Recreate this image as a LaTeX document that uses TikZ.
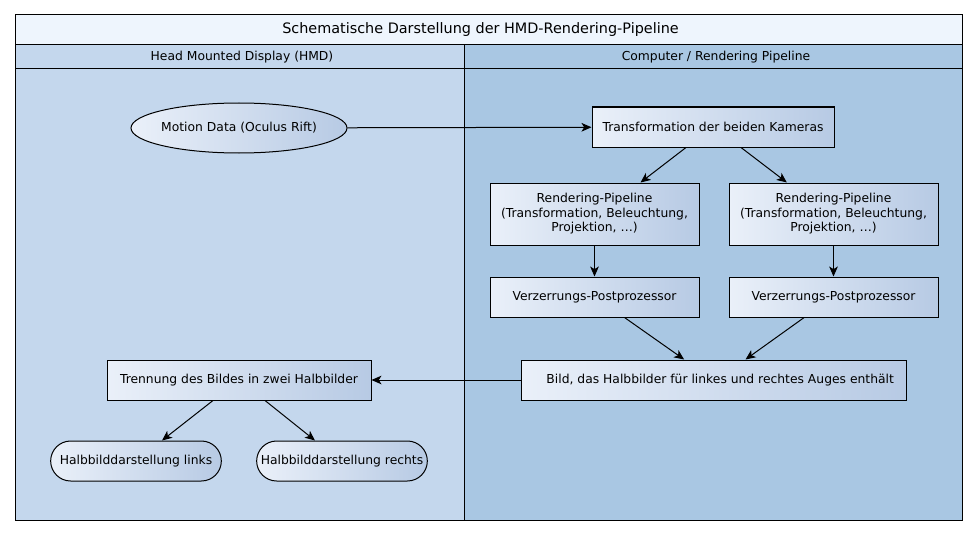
\documentclass[tikz,border=0pt]{standalone}
\usepackage{fontspec}
\setmainfont{DejaVu Sans}
\usepackage{xcolor}
\usetikzlibrary{
    arrows.meta,
    calc,
    positioning,
    shapes.geometric,
    shapes.misc
}
\definecolor{titlefill}{RGB}{238,245,253}
\definecolor{hmdfill}{RGB}{196,215,237}
\definecolor{pcfill}{RGB}{169,199,227}
\definecolor{boxlight}{RGB}{234,240,249}
\definecolor{boxdark}{RGB}{183,202,228}

\begin{document}
\begin{tikzpicture}[x=0.75pt,y=-0.75pt,
    font=\fontsize{9.25pt}{10.9pt}\selectfont,
    stage/.style={draw,line width=0.75pt,left color=boxlight,right color=boxdark,
        inner sep=2pt,align=center,minimum height=30pt},
    pipebox/.style={stage,rectangle,minimum width=156.75pt},
    halfbox/.style={stage,rounded rectangle,minimum width=132pt},
    flow/.style={line width=0.75pt,-{Stealth[length=7.5pt,width=6.5pt,inset=2pt]}}
]
\useasboundingbox (0,0) rectangle (978,535);

% Swimlanes
\fill[titlefill] (15,15) rectangle (962,45);
\fill[hmdfill] (15,45) rectangle (464,520);
\fill[pcfill] (464,45) rectangle (962,520);
\draw[line width=0.75pt] (15,15) rectangle (962,520);
\draw[line width=0.75pt] (15,45) -- (962,45);
\draw[line width=0.75pt] (15,69) -- (962,69);
\draw[line width=0.75pt] (464,45) -- (464,520);
\node (title) at (480.5,30) {\fontsize{10.8pt}{13pt}\selectfont Schematische Darstellung der HMD-Rendering-Pipeline};
\node (hmd) at (242,57) {Head Mounted Display (HMD)};
\node (pc) at (716,57) {Computer / Rendering Pipeline};

% Nodes
\node[stage,ellipse,inner xsep=-3pt,inner ysep=0pt,minimum width=162pt,minimum height=37.5pt] (motion) at (239,128) {Motion Data (Oculus Rift)};
\node[stage,minimum width=181.5pt] (trafo) at (713,127) {Transformation der beiden Kameras};
\node[pipebox,minimum height=46.5pt] (renderL) at (594.5,214) {Rendering-Pipeline\\(Transformation, Beleuchtung,\\Projektion, \dots)};
\node[pipebox,minimum height=46.5pt] (renderR) at (833.5,214) {Rendering-Pipeline\\(Transformation, Beleuchtung,\\Projektion, \dots)};
\node[pipebox] (distL) at (594.5,297) {Verzerrungs-Postprozessor};
\node[pipebox] (distR) at (833.5,297) {Verzerrungs-Postprozessor};
\node[stage,minimum width=288.75pt] (frame) at (713.5,380) {\hspace{10pt}Bild, das Halbbilder für linkes und rechtes Auges enthält};
\node[stage,minimum width=198pt] (split) at (239,380) {Trennung des Bildes in zwei Halbbilder};
\node[halfbox] (left) at (136,461) {Halbbilddarstellung links};
\node[halfbox] (right) at (342,461) {Halbbilddarstellung rechts};

% Connectors
\draw[flow] (motion) -- (trafo);
\draw[flow] ([xshift=-20.25pt]trafo.south) -- ([xshift=34.5pt]renderL.north);
\draw[flow] ([xshift=21pt]trafo.south) -- ([xshift=-35pt]renderR.north);
\draw[flow] (renderL) -- (distL);
\draw[flow] (renderR) -- (distR);
\draw[flow] ([xshift=22.5pt]distL.south) -- ([xshift=-22pt]frame.north);
\draw[flow] ([xshift=-22pt]distR.south) -- ([xshift=24pt]frame.north);
\draw[flow] (frame) -- (split);
\draw[flow] ([xshift=-19.5pt]split.south) -- ([xshift=19.5pt]left.north);
\draw[flow] ([xshift=19.5pt]split.south) -- ([xshift=-20.25pt]right.north);
\end{tikzpicture}
\end{document}
